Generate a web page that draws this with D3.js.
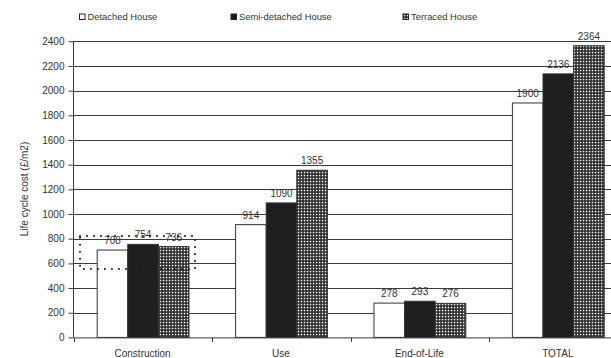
<!DOCTYPE html>
<html><head><meta charset="utf-8">
<script src="https://cdn.jsdelivr.net/npm/d3@7"></script>
<style>
body{margin:0;background:#fff;}
svg{display:block;font-family:"Liberation Sans",Arial,Helvetica,sans-serif;}
</style></head>
<body>
<svg id="chart" width="611" height="358"></svg>
<script>
const categories = ["Construction", "Use", "End-of-Life", "TOTAL"];
const seriesNames = ["Detached House", "Semi-detached House", "Terraced House"];
const detached = [708, 914, 278, 1900];
const semiDetached = [754, 1090, 293, 2136];
const terraced = [736, 1355, 276, 2364];
const yTicks = [0, 200, 400, 600, 800, 1000, 1200, 1400, 1600, 1800, 2000, 2200, 2400];
const yTitle = "Life cycle cost (£/m2)";
const highlightCategory = "Construction";
const highlightRange = [555, 822];

const seriesValues = [detached, semiDetached, terraced];
const svg = d3.select("#chart");

// patterns
const defs = svg.append("defs");
const pat = defs.append("pattern").attr("id","checker").attr("patternUnits","userSpaceOnUse")
  .attr("width",3).attr("height",3);
pat.append("rect").attr("width",3).attr("height",3).attr("fill","#262626");
pat.append("rect").attr("x",0.8).attr("y",0.8).attr("width",1.5).attr("height",1.5).attr("fill","#fff");

const fills = ["#ffffff", "#1f1f1f", "url(#checker)"];

const x = d3.scaleBand().domain(categories).range([73.9, 627.5]).padding(0);
const xs = d3.scaleBand().domain(seriesNames).range([23.3, 115.1]).padding(0);
const y = d3.scaleLinear().domain([0, 2400]).range([337.4, 41.3]);

// gridlines
svg.append("g").selectAll("line").data(yTicks.filter(d=>d>0)).join("line")
  .attr("x1", 73.5).attr("x2", 611)
  .attr("y1", d=>Math.round(y(d))+0.5).attr("y2", d=>Math.round(y(d))+0.5)
  .attr("stroke","#3a3a3a").attr("stroke-width",1);

// y axis
const yAxis = svg.append("g").attr("transform","translate(73.5,0)")
  .call(d3.axisLeft(y).tickValues(yTicks).tickSize(5).tickPadding(4).tickFormat(d3.format("d")));
yAxis.select(".domain").attr("stroke","#3a3a3a").attr("d","M0,"+y(2400)+"V"+y(0));
yAxis.selectAll(".tick line").attr("stroke","#3a3a3a");
yAxis.selectAll(".tick text").attr("font-size","10px").attr("fill","#333");

// bars
const data = [];
categories.forEach((c,i)=>seriesNames.forEach((s,j)=>data.push({c, s, j, v: seriesValues[j][i]})));
const barG = svg.append("g");
barG.selectAll("rect").data(data).join("rect")
  .attr("x", d=>x(d.c)+xs(d.s))
  .attr("width", xs.bandwidth())
  .attr("y", d=>y(d.v))
  .attr("height", d=>y(0)-y(d.v))
  .attr("fill", d=>fills[d.j])
  .attr("stroke","#333").attr("stroke-width",1);

// value labels
svg.append("g").selectAll("text").data(data).join("text")
  .attr("x", d=>x(d.c)+xs(d.s)+xs.bandwidth()/2)
  .attr("y", d=>y(d.v)-6)
  .attr("text-anchor","middle").attr("font-size","10px").attr("fill","#333")
  .text(d=>d.v);

// x axis
const xAxisG = svg.append("g");
xAxisG.append("line").attr("x1",73.5).attr("x2",611).attr("y1",337.9).attr("y2",337.9)
  .attr("stroke","#3a3a3a");
xAxisG.selectAll("line.tk").data(categories).join("line").attr("class","tk")
  .attr("x1", d=>Math.round(x(d))+0.5).attr("x2", d=>Math.round(x(d))+0.5)
  .attr("y1",337.9).attr("y2",342).attr("stroke","#3a3a3a");
xAxisG.selectAll("text").data(categories).join("text")
  .attr("x", d=>x(d)+x.bandwidth()/2 - 0.5)
  .attr("y", 357)
  .attr("text-anchor","middle").attr("font-size","10px").attr("fill","#333")
  .text(d=>d);

// y title
svg.append("text").attr("transform","translate(28,189) rotate(-90)")
  .attr("text-anchor","middle").attr("font-size","10px").attr("fill","#333").text(yTitle);

// highlight dotted box
const hx0 = x(highlightCategory) + 6.1, hx1 = x(highlightCategory) + 121.1;
svg.append("rect").attr("x",hx0).attr("y",y(highlightRange[1]))
  .attr("width",hx1-hx0).attr("height",y(highlightRange[0])-y(highlightRange[1]))
  .attr("fill","none").attr("stroke","#111").attr("stroke-width",2)
  .attr("stroke-linecap","round").attr("stroke-dasharray","0 7");

// legend
const legendX = [79.5, 231, 403];
const lg = svg.append("g").selectAll("g").data(seriesNames).join("g")
  .attr("transform",(d,i)=>`translate(${legendX[i]},14)`);
lg.append("rect").attr("width",5.5).attr("height",5.5).attr("fill",(d,i)=>fills[i])
  .attr("stroke","#222").attr("stroke-width",1);
lg.append("text").attr("x",8).attr("y",6.2).attr("font-size","9.4px").attr("fill","#333").text(d=>d);
</script>
</body></html>
